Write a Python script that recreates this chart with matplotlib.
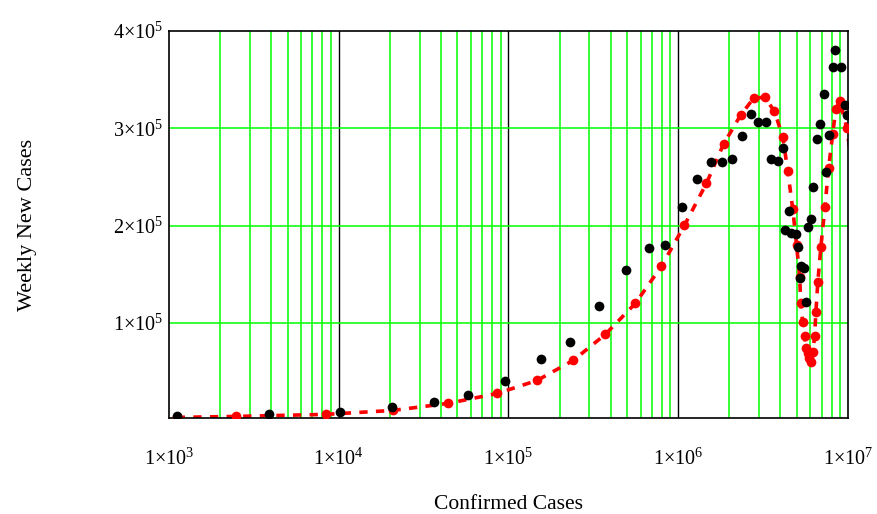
import numpy as np
import matplotlib.pyplot as plt
from matplotlib.ticker import FixedLocator, FuncFormatter, NullFormatter

plt.rcParams['font.family'] = ['Liberation Serif', 'DejaVu Serif']
plt.rcParams['mathtext.fontset'] = 'custom'
plt.rcParams['mathtext.rm'] = 'Liberation Serif'
plt.rcParams['mathtext.it'] = 'Liberation Serif'

# observed weekly new cases vs confirmed cases (black dots)
obs_confirmed = [1.11e3, 3.87e3, 1.017e4, 2.06e4, 3.65e4, 5.78e4, 9.56e4, 1.56e5,
                 2.31e5, 3.43e5, 4.94e5, 6.76e5, 8.41e5, 1.059e6, 1.298e6, 1.57e6,
                 1.80e6, 2.06e6, 2.36e6, 2.67e6, 2.97e6, 3.31e6, 3.50e6, 3.85e6,
                 4.13e6, 4.48e6, 4.25e6, 4.60e6, 4.93e6, 5.06e6, 5.26e6, 5.48e6,
                 5.20e6, 5.65e6, 5.78e6, 6.03e6, 6.21e6, 6.55e6, 6.81e6, 7.19e6,
                 7.38e6, 7.69e6, 8.12e6, 8.35e6, 9.06e6, 9.57e6, 9.85e6]
obs_weekly = [4.1e3, 6.2e3, 8.2e3, 1.34e4, 1.85e4, 2.57e4, 4.01e4, 6.27e4,
              8.02e4, 1.172e5, 1.542e5, 1.768e5, 1.799e5, 2.189e5, 2.477e5, 2.652e5,
              2.652e5, 2.682e5, 2.919e5, 3.145e5, 3.063e5, 3.063e5, 2.682e5, 2.662e5,
              2.796e5, 2.148e5, 1.953e5, 1.922e5, 1.912e5, 1.778e5, 1.583e5, 1.562e5,
              1.459e5, 1.213e5, 1.984e5, 2.066e5, 2.395e5, 2.888e5, 3.042e5, 3.351e5,
              2.549e5, 2.929e5, 3.628e5, 3.803e5, 3.628e5, 3.237e5, 3.135e5]

# model curve (red dots + dashed line)
fit_confirmed = [1.11e3, 2.47e3, 8.41e3, 2.09e4, 4.41e4, 8.58e4, 1.476e5, 2.41e5,
                 3.72e5, 5.59e5, 7.96e5, 1.088e6, 1.467e6, 1.848e6, 2.33e6, 2.78e6,
                 3.23e6, 3.69e6, 4.13e6, 4.42e6, 4.73e6, 4.98e6, 5.20e6, 5.26e6,
                 5.41e6, 5.55e6, 5.65e6, 5.78e6, 5.86e6, 6.03e6, 6.21e6, 6.36e6,
                 6.47e6, 6.64e6, 6.92e6, 7.31e6, 7.69e6, 8.12e6, 8.48e6, 8.96e6,
                 9.85e6, 1.1e7]
fit_weekly = [3.1e3, 4.1e3, 6.2e3, 1.03e4, 1.75e4, 2.77e4, 4.11e4, 6.17e4,
              8.84e4, 1.202e5, 1.583e5, 2.004e5, 2.436e5, 2.837e5, 3.135e5, 3.309e5,
              3.320e5, 3.176e5, 2.909e5, 2.559e5, 2.169e5, 1.799e5, 1.470e5, 1.202e5,
              1.007e5, 8.63e4, 7.40e4, 6.89e4, 6.37e4, 5.96e4, 6.99e4, 8.63e4,
              1.110e5, 1.418e5, 1.778e5, 2.189e5, 2.590e5, 2.939e5, 3.196e5, 3.279e5,
              3.001e5, 2.4e5]

x_ticks = [1e3, 1e4, 1e5, 1e6, 1e7]
y_ticks = [1e5, 2e5, 3e5, 4e5]

fig = plt.figure(figsize=(8.78, 5.14), dpi=100)
ax = fig.add_axes([0.1925, 0.1868, 0.7733, 0.7529])

green = '#00ff00'
# vertical grid: green at 2..9, black at decades
for dec in [1e3, 1e4, 1e5, 1e6]:
    for m in range(2, 10):
        ax.axvline(dec * m, color=green, lw=1.1, zorder=1)
for dec in x_ticks[1:-1]:
    ax.axvline(dec, color='black', lw=1.0, zorder=1)
for yv in y_ticks[:-1]:
    ax.axhline(yv, color=green, lw=1.1, zorder=1)

ax.plot(fit_confirmed, fit_weekly, color='red', lw=2.6, ls=(0, (2.3, 2.3)), zorder=2)
ax.plot(fit_confirmed, fit_weekly, 'o', color='red', ms=7, mec='none', zorder=3)
ax.plot(obs_confirmed, obs_weekly, 'o', color='black', ms=7, mec='none', zorder=4)

ax.set_xscale('log')
ax.set_xlim(1e3, 1e7)
ax.set_ylim(2.5e3, 4e5)

ax.xaxis.set_major_locator(FixedLocator(x_ticks))
ax.xaxis.set_minor_formatter(NullFormatter())
ax.yaxis.set_major_locator(FixedLocator(y_ticks))
fmt = FuncFormatter(lambda v, _: r'$\mathregular{1{\times}10^{%d}}$' % round(np.log10(v)))
ax.xaxis.set_major_formatter(fmt)
ax.yaxis.set_major_formatter(FuncFormatter(
    lambda v, _: r'$\mathregular{%d{\times}10^{5}}$' % round(v / 1e5)))
ax.tick_params(axis='both', which='both', length=0, labelsize=14.5)
ax.tick_params(axis='x', pad=22)
ax.tick_params(axis='y', pad=4)

for s in ax.spines.values():
    s.set_linewidth(1.2)
    s.set_color('black')

ax.set_xlabel('Confirmed Cases', fontsize=15.5, labelpad=18)
ax.set_ylabel('Weekly New Cases', fontsize=16, labelpad=55)

fig.savefig('out.png', dpi=100)
